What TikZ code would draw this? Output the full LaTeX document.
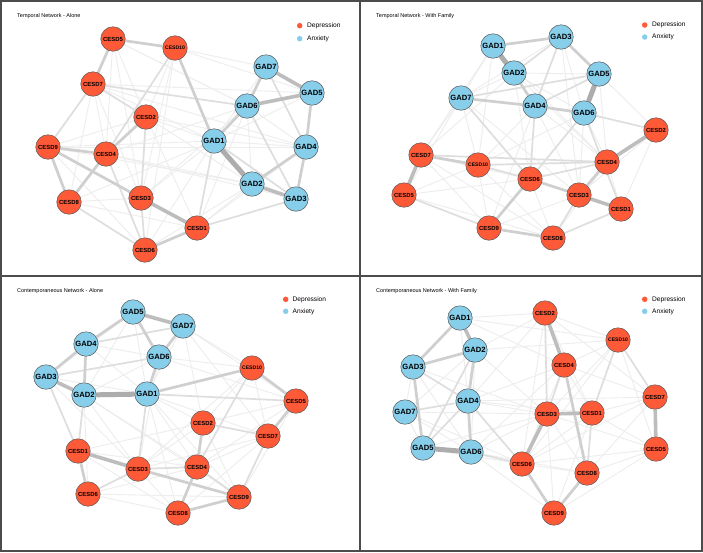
\documentclass[tikz,border=0pt]{standalone}
\usepackage{fontspec}
\setmainfont{Liberation Sans}
\usetikzlibrary{backgrounds}
\pgfdeclarelayer{bottom}
\pgfsetlayers{bottom,background,main}
\definecolor{depc}{RGB}{255,90,56}
\definecolor{anxc}{RGB}{135,206,235}
\newcommand\edgeset[2]{\foreach \u/\v in {#2} {\draw[#1] (\u) -- (\v);}}
\tikzset{
  nd/.style={circle, draw=black!65, line width=0.5pt, minimum size=24.5pt, inner sep=0pt},
  dep/.style={nd, fill=depc, font=\fontsize{5.9}{6}\selectfont\bfseries},
  depx/.style={nd, fill=depc, font=\fontsize{5.1}{6}\selectfont\bfseries},
  anx/.style={nd, fill=anxc, font=\fontsize{7.6}{8}\selectfont\bfseries},
  ttl/.style={anchor=west, inner sep=0pt, font=\fontsize{5.5}{6}\selectfont},
  legdot/.style={circle, minimum size=5.5pt, inner sep=0pt},
  legtxt/.style={anchor=west, inner sep=0pt, font=\fontsize{6.6}{7}\selectfont},
  e1/.style={line width=0.9pt, black!7},
  e2/.style={line width=1.7pt, black!13},
  e3/.style={line width=2.7pt, black!19},
  e4/.style={line width=3.6pt, black!26},
  e5/.style={line width=5pt, black!32},
  frame/.style={line width=1.3pt, black!70}
}
\begin{document}
\begin{tikzpicture}[x=1pt,y=-1pt]
\useasboundingbox (0,0) rectangle (703,552);
\begin{pgfonlayer}{bottom}
\fill[white] (0,0) rectangle (703,552);
\end{pgfonlayer}
\draw[frame] (1,1) rectangle (702,551);
\draw[frame] (360,1) -- (360,551);
\draw[frame] (1,276) -- (702,276);

% ---------- Panel A: Temporal - Alone ----------
\node[ttl] (aT) at (17,16) {Temporal Network - Alone};
\node[legdot, fill=depc] (aLd) at (299.7,25.7) {};
\node[legtxt] (aLdt) at (307,25.7) {Depression};
\node[legdot, fill=anxc] (aLa) at (299.7,38.7) {};
\node[legtxt] (aLat) at (307,38.7) {Anxiety};
\node[dep] (aC5) at (113,39) {CESD5};
\node[depx] (aC10) at (175,48) {CESD10};
\node[dep] (aC7) at (93,84) {CESD7};
\node[dep] (aC2) at (146,117) {CESD2};
\node[dep] (aC9) at (48,147) {CESD9};
\node[dep] (aC4) at (106,154) {CESD4};
\node[dep] (aC8) at (69,202) {CESD8};
\node[dep] (aC3) at (141,198) {CESD3};
\node[dep] (aC1) at (197,228) {CESD1};
\node[dep] (aC6) at (145,250) {CESD6};
\node[anx] (aG7) at (266,67) {GAD7};
\node[anx] (aG5) at (312,93) {GAD5};
\node[anx] (aG6) at (247,106) {GAD6};
\node[anx] (aG1) at (214,141) {GAD1};
\node[anx] (aG4) at (306,147) {GAD4};
\node[anx] (aG2) at (252,184) {GAD2};
\node[anx] (aG3) at (296,199) {GAD3};

% ---------- Panel B: Temporal - With Family ----------
\node[ttl] (bT) at (376,16) {Temporal Network - With Family};
\node[legdot, fill=depc] (bLd) at (644.7,25) {};
\node[legtxt] (bLdt) at (652,25) {Depression};
\node[legdot, fill=anxc] (bLa) at (644.7,37) {};
\node[legtxt] (bLat) at (652,37) {Anxiety};
\node[anx] (bG1) at (493,46) {GAD1};
\node[anx] (bG3) at (561,37) {GAD3};
\node[anx] (bG2) at (514,73) {GAD2};
\node[anx] (bG5) at (599,74) {GAD5};
\node[anx] (bG7) at (461,98) {GAD7};
\node[anx] (bG4) at (535,106) {GAD4};
\node[anx] (bG6) at (584,113) {GAD6};
\node[dep] (bC2) at (656,130) {CESD2};
\node[dep] (bC7) at (421,155) {CESD7};
\node[depx] (bC10) at (478,165) {CESD10};
\node[dep] (bC4) at (607,162) {CESD4};
\node[dep] (bC6) at (530,179) {CESD6};
\node[dep] (bC5) at (404,195) {CESD5};
\node[dep] (bC3) at (579,195) {CESD3};
\node[dep] (bC1) at (621,209) {CESD1};
\node[dep] (bC9) at (489,228) {CESD9};
\node[dep] (bC8) at (553,238) {CESD8};

% ---------- Panel C: Contemporaneous - Alone ----------
\node[ttl] (cT) at (17,291) {Contemporaneous Network - Alone};
\node[legdot, fill=depc] (cLd) at (285.7,299.3) {};
\node[legtxt] (cLdt) at (292.5,299.3) {Depression};
\node[legdot, fill=anxc] (cLa) at (285.7,311.3) {};
\node[legtxt] (cLat) at (292.5,311.3) {Anxiety};
\node[anx] (cG5) at (133,312) {GAD5};
\node[anx] (cG7) at (183,326) {GAD7};
\node[anx] (cG4) at (86,344) {GAD4};
\node[anx] (cG6) at (159,357) {GAD6};
\node[anx] (cG3) at (46,377) {GAD3};
\node[anx] (cG2) at (84,395) {GAD2};
\node[anx] (cG1) at (147,394) {GAD1};
\node[depx] (cC10) at (252,368) {CESD10};
\node[dep] (cC5) at (296,401) {CESD5};
\node[dep] (cC2) at (203,423) {CESD2};
\node[dep] (cC7) at (268,436) {CESD7};
\node[dep] (cC1) at (78,451) {CESD1};
\node[dep] (cC3) at (138,469) {CESD3};
\node[dep] (cC4) at (197,467) {CESD4};
\node[dep] (cC6) at (88,494) {CESD6};
\node[dep] (cC9) at (239,497) {CESD9};
\node[dep] (cC8) at (178,513) {CESD8};

% ---------- Panel D: Contemporaneous - With Family ----------
\node[ttl] (dT) at (376,291) {Contemporaneous Network - With Family};
\node[legdot, fill=depc] (dLd) at (644.7,299.3) {};
\node[legtxt] (dLdt) at (652,299.3) {Depression};
\node[legdot, fill=anxc] (dLa) at (644.7,311.3) {};
\node[legtxt] (dLat) at (652,311.3) {Anxiety};
\node[anx] (dG1) at (460,318) {GAD1};
\node[anx] (dG2) at (475,350) {GAD2};
\node[anx] (dG3) at (413,367) {GAD3};
\node[anx] (dG4) at (468,401) {GAD4};
\node[anx] (dG7) at (405,412) {GAD7};
\node[anx] (dG5) at (423,448) {GAD5};
\node[anx] (dG6) at (471,452) {GAD6};
\node[dep] (dC2) at (545,313) {CESD2};
\node[depx] (dC10) at (618,340) {CESD10};
\node[dep] (dC4) at (564,365) {CESD4};
\node[dep] (dC7) at (655,397) {CESD7};
\node[dep] (dC3) at (547,414) {CESD3};
\node[dep] (dC1) at (592,413) {CESD1};
\node[dep] (dC5) at (656,449) {CESD5};
\node[dep] (dC6) at (522,464) {CESD6};
\node[dep] (dC8) at (587,473) {CESD8};
\node[dep] (dC9) at (554,513) {CESD9};

\begin{pgfonlayer}{background}
% Panel A edges
\edgeset{e1}{aC10/aG7, aC7/aG5, aC7/aG4, aC7/aG1, aC9/aG1, aC9/aG2, aC4/aG2, aC4/aG3, aC8/aG1, aC8/aC1, aC8/aC3, aC6/aG1, aC6/aG2, aC3/aG1, aC2/aG4, aC2/aG1, aC10/aC2, aC10/aC3, aC5/aC4, aC5/aC2, aC5/aC3, aC7/aC4, aC7/aC8, aC7/aC3, aC9/aC6, aC9/aC2, aC1/aG2, aC1/aG6, aC3/aG6, aG1/aG4, aG1/aG5, aG6/aG2, aG6/aG4, aG7/aG1, aC2/aG2, aC4/aG6, aC1/aG4, aC5/aG6, aC10/aG5, aC9/aG4, aC2/aC1, aC10/aC6}
\edgeset{e2}{aC7/aC9, aC7/aC2, aC2/aC3, aC10/aC4, aG7/aG4, aG6/aG3, aG1/aG3, aC7/aG6, aC3/aC6, aC8/aC6, aC4/aC6, aC1/aG3, aC1/aG1}
\edgeset{e3}{aG4/aG3, aG4/aG2, aG7/aG6, aG6/aG1, aC5/aC10, aC5/aC7, aC4/aC8, aC9/aC8, aC9/aC4, aC9/aC3, aC6/aC1, aC10/aG1, aG5/aG4, aC2/aC4}
\edgeset{e4}{aG2/aG3, aC3/aC1, aG6/aG5, aG7/aG5}
\edgeset{e5}{aG1/aG2}
% Panel B edges
\edgeset{e1}{bG1/bG7, bG1/bG4, bG1/bC10, bG1/bC7, bG2/bG5, bG2/bG6, bG2/bC6, bG2/bC4, bG2/bC7, bG3/bG6, bG3/bC3, bG3/bG7, bG5/bC2, bG5/bC4, bG6/bC3, bG6/bC10, bG4/bC4, bG4/bC3, bG4/bC10, bG4/bC9, bG7/bC10, bG7/bC7, bG7/bC5, bG7/bC3, bC7/bC6, bC7/bC9, bC7/bC8, bC10/bC9, bC10/bC8, bC10/bC5, bC5/bC6, bC5/bC8, bC6/bC8, bC6/bC1, bC4/bC1, bC4/bC8, bC9/bC3, bC2/bC3, bG6/bC4, bG1/bC4, bC2/bC1, bG2/bG7}
\edgeset{e2}{bG7/bG5, bG2/bG3, bG3/bG4, bG4/bG5, bG6/bC2, bC10/bC6, bC8/bC3, bC8/bC1, bC5/bC9, bC6/bC4, bC10/bC4, bC7/bC4, bC6/bG6, bC6/bG4, bG7/bC6, bG6/bC1}
\edgeset{e3}{bG1/bG3, bG3/bG5, bG2/bG4, bG4/bG6, bG7/bG4, bC4/bC3, bC6/bC3, bC7/bC10, bC9/bC8, bC9/bC6}
\edgeset{e4}{bC2/bC4, bC3/bC1, bC7/bC5}
\edgeset{e5}{bG1/bG2, bG5/bG6}
% Panel C edges
\edgeset{e1}{cG5/cG1, cG5/cG2, cG5/cG3, cG7/cG1, cG7/cC10, cG7/cC5, cG7/cC7, cG7/cC2, cG6/cC10, cG6/cC5, cG6/cC3, cG6/cG2, cG4/cG6, cG4/cG1, cG3/cG1, cG3/cC3, cG2/cC3, cG2/cC4, cG2/cC6, cG2/cC9, cG1/cC2, cG1/cC4, cG1/cC8, cG1/cC9, cG1/cC7, cC10/cC2, cC10/cC7, cC10/cC3, cC5/cC2, cC5/cC4, cC2/cC3, cC2/cC9, cC2/cC1, cC7/cC4, cC7/cC3, cC7/cC8, cC1/cC4, cC1/cC8, cC1/cC9, cC6/cC4, cC6/cC9, cC3/cC8, cC5/cC9, cC6/cC8}
\edgeset{e2}{cG4/cG7, cG3/cG6, cG1/cC5, cC2/cC7, cC4/cC9, cC7/cC9, cC10/cC4, cC3/cC4, cC6/cC3, cC3/cG1, cG3/cC1, cG2/cC1}
\edgeset{e3}{cG5/cG4, cG4/cG3, cG4/cG2, cG5/cG6, cG7/cG6, cG6/cG1, cG1/cC10, cC10/cC5, cC5/cC7, cC2/cC4, cC1/cC6, cC3/cC9, cC4/cC8, cC8/cC9}
\edgeset{e4}{cG3/cG2, cG5/cG7, cC1/cC3}
\edgeset{e5}{cG2/cG1}
% Panel D edges
\edgeset{e1}{dG1/dG4, dG1/dC2, dG1/dC10, dG1/dC4, dG2/dC2, dG2/dC10, dG2/dC3, dG2/dG7, dG2/dG6, dG3/dG7, dG3/dG6, dG3/dC3, dG7/dG6, dG7/dC3, dG7/dC6, dG4/dC2, dG4/dC4, dG4/dC3, dG4/dC1, dG4/dC7, dG5/dC6, dG5/dC3, dG6/dC9, dG6/dC8, dG6/dC3, dG6/dC4, dC2/dC1, dC2/dC7, dC2/dC6, dC10/dC4, dC10/dC3, dC10/dC6, dC10/dC5, dC4/dC1, dC4/dC7, dC4/dC6, dC7/dC1, dC7/dC8, dC7/dC6, dC3/dC8, dC3/dC9, dC3/dC5, dC1/dC5, dC1/dC6, dC1/dC9, dC6/dC8, dC6/dC5, dC8/dC5, dG7/dG5, dC9/dC5, dC2/dC10}
\edgeset{e2}{dG7/dG4, dG3/dG4, dG5/dG4, dG5/dG2, dC10/dC7, dC10/dC1, dC2/dC3, dC1/dC8, dC4/dC3, dG6/dC6, dG4/dC6}
\edgeset{e3}{dG2/dG4, dG4/dG6, dG3/dG5, dG1/dG3, dG3/dG2, dC4/dC8, dC8/dC9, dC6/dC9}
\edgeset{e4}{dG1/dG2, dC2/dC4, dC3/dC1, dC3/dC6, dC7/dC5}
\edgeset{e5}{dG5/dG6}
\end{pgfonlayer}
\end{tikzpicture}
\end{document}
